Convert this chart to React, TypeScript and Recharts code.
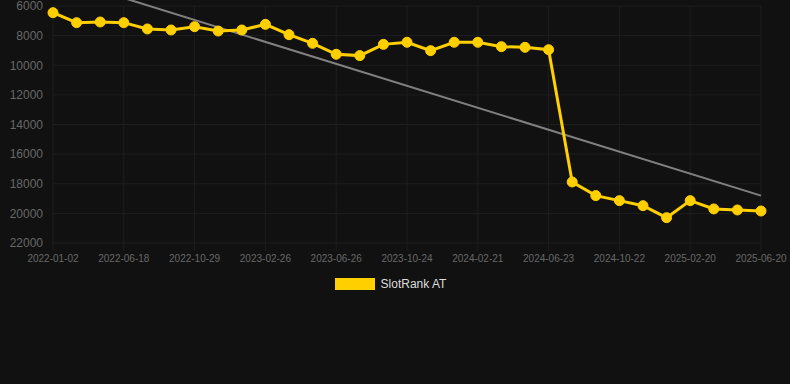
import React from 'react';
import { LineChart, Line, XAxis, YAxis, CartesianGrid, Legend, ReferenceLine } from 'recharts';

const dates = [
  '2022-01-02', '2022-02-27', '2022-04-24',
  '2022-06-18', '2022-08-01', '2022-09-15',
  '2022-10-29', '2022-12-08', '2023-01-17',
  '2023-02-26', '2023-04-07', '2023-05-17',
  '2023-06-26', '2023-08-05', '2023-09-14',
  '2023-10-24', '2023-12-03', '2024-01-12',
  '2024-02-21', '2024-04-01', '2024-05-13',
  '2024-06-23', '2024-08-02', '2024-09-12',
  '2024-10-22', '2024-12-01', '2025-01-10',
  '2025-02-20', '2025-04-01', '2025-05-11',
  '2025-06-20',
];

const ranks = [
  6450, 7125, 7080,
  7125, 7550, 7620,
  7395, 7690, 7620,
  7240, 7935, 8520,
  9260, 9350, 8590,
  8450, 9015, 8450,
  8450, 8745, 8790,
  8950, 17880, 18800,
  19140, 19480, 20290,
  19140, 19700, 19770,
  19840,
];

const yTicks = [6000, 8000, 10000, 12000, 14000, 16000, 18000, 20000, 22000];
const trendStart = 3980;
const trendEnd = 18800;
const seriesName = 'SlotRank AT';

const YELLOW = '#FFCF00';
const GRID = '#1e1e1e';
const LABEL = '#686868';
const FONT = '"Liberation Sans", Arial, Helvetica, sans-serif';

const data = dates.map((d, i) => ({ date: d, rank: ranks[i] }));

const renderLegend = () => (
  <div
    style={{
      display: 'flex',
      justifyContent: 'center',
      alignItems: 'center',
      height: 22,
      fontFamily: FONT,
      fontSize: 12,
      color: '#dddddd',
    }}
  >
    <span style={{ display: 'inline-block', width: 40, height: 12, background: YELLOW, marginRight: 6 }} />
    <span>{seriesName}</span>
  </div>
);

export default function App() {
  return (
    <div style={{ position: 'absolute', left: 0, top: 0, width: 790, height: 384, background: '#111111', fontFamily: FONT }}>
      <LineChart width={790} height={384} data={data} margin={{ top: 6, right: 29, left: 0, bottom: 89 }}>
        <CartesianGrid stroke={GRID} strokeWidth={1} />
        <XAxis
          dataKey="date"
          interval={2}
          tick={{ fill: LABEL, fontSize: 10, fontFamily: FONT }}
          tickLine={{ stroke: GRID }}
          tickSize={8}
          tickMargin={4}
          axisLine={false}
        />
        <YAxis
          width={53}
          reversed
          domain={[6000, 22000]}
          ticks={yTicks}
          interval={0}
          tick={{ fill: LABEL, fontSize: 12, fontFamily: FONT }}
          tickLine={false}
          tickSize={0}
          tickMargin={10}
          axisLine={false}
        />
        <ReferenceLine
          segment={[
            { x: dates[0], y: trendStart },
            { x: dates[dates.length - 1], y: trendEnd },
          ]}
          stroke="#808080"
          strokeWidth={2}
          ifOverflow="visible"
        />
        <Line
          type="linear"
          dataKey="rank"
          name={seriesName}
          stroke={YELLOW}
          strokeWidth={3}
          dot={{ r: 5, fill: YELLOW, stroke: YELLOW, strokeWidth: 1 }}
          activeDot={false}
          isAnimationActive={false}
        />
        <Legend verticalAlign="bottom" content={renderLegend} wrapperStyle={{ left: 0, width: 781 }} />
      </LineChart>
    </div>
  );
}
